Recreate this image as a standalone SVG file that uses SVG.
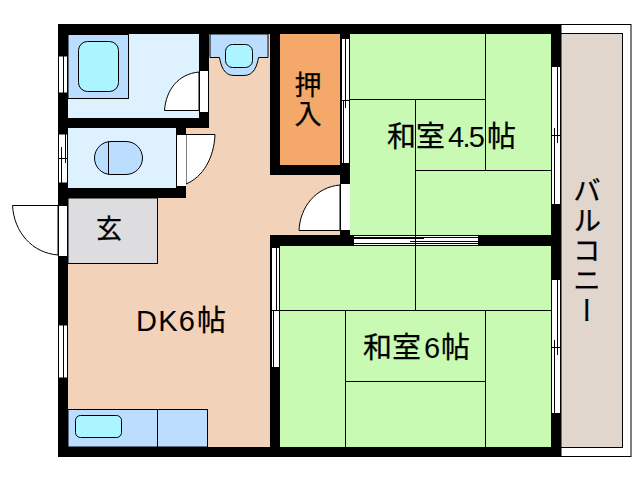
<svg xmlns="http://www.w3.org/2000/svg" width="638" height="480" viewBox="0 0 638 480">
<defs><style>
.ln{fill:none;stroke:#000;stroke-width:1}
.f{stroke:#000;stroke-width:1}
.w{fill:#fff}
.blue{fill:#BBDDFF}
.cy{fill:#AAF5FF}
.tx{font-family:"Noto Sans CJK JP","Liberation Sans",sans-serif;font-size:29px;fill:#000;stroke:#000;stroke-width:.25px}
.la{font-family:"Liberation Sans",sans-serif;font-size:29px;fill:#000}
.v{writing-mode:vertical-rl}
</style></defs>
<rect width="638" height="480" fill="#fff"/>
<g id="balcony">
<rect x="561" y="24.500" width="70" height="432" fill="#fff" stroke="#000"/>
<rect x="561" y="33.500" width="61.500" height="414" fill="#E0D6CE" stroke="#000"/>
<text class="tx v" style="font-size:28px" x="587" y="176" letter-spacing="2">バルコニー</text>
</g>
<g id="dk">
<rect x="68" y="34" width="203" height="414" fill="#F2D2B8"/>
<rect x="270" y="175" width="71" height="61" fill="#F2D2B8"/>
<text x="136" y="331" class="la" textLength="59">DK6</text><text x="197" y="331" class="tx">帖</text>
</g>
<g id="bath">
<rect x="68" y="34" width="132" height="85" fill="#DDF1FF"/>
<rect class="blue f" x="68" y="34.500" width="60.500" height="64"/>
<rect class="cy f" x="78.500" y="41.500" width="40" height="50" rx="9"/>
</g>
<g id="toilet">
<path class="blue f" d="M210 34V57.500H219.500C221 66 224 75.500 234 75.500H244C254 75.500 257 66 258.500 57.500H268V34Z"/>
<rect class="cy f" x="225.500" y="44.500" width="27" height="23" rx="7"/>
</g>
<g id="washroom">
<rect x="68" y="128" width="109" height="61" fill="#DDF1FF"/>
<rect class="blue f" x="94.500" y="141.500" width="48" height="33" rx="16.500"/>
<path class="ln" d="M108.500 141.500V174.500"/>
</g>
<g id="genkan">
<rect x="68" y="198" width="89.500" height="65.500" fill="#DDDDE0" stroke="#000"/>
<text class="tx" x="96" y="238" style="font-size:26px">玄</text>
</g>
<g id="closet">
<rect x="280" y="34" width="61" height="132" fill="#F4A96B"/>
<text class="tx v" x="308" y="71.500" style="font-size:27px" letter-spacing="2">押入</text>
</g>
<g id="washitsu45">
<rect x="350" y="34" width="202" height="202" fill="#C8FAB4"/>
<path class="ln" d="M485.500 34V170.500M350 99.500H485.500M415.500 99.500V236M415.500 170.500H552"/>
<text class="tx" x="387" y="147">和室</text><text class="la" x="448" y="147" textLength="37">4.5</text><text class="tx" x="487" y="147">帖</text>
</g>
<g id="washitsu6">
<rect x="280" y="245" width="272" height="203" fill="#C8FAB4"/>
<path class="ln" d="M415.500 245V310.500M280 310.500H552M345.500 310.500V448M485.500 310.500V448M345.500 381.500H485.500"/>
<text class="tx" x="363" y="358">和室</text><text class="la" x="424" y="358">6</text><text class="tx" x="441" y="358">帖</text>
</g>
<g id="walls" fill="#000">
<rect x="58" y="24" width="503" height="10"/>
<rect x="58" y="447" width="503" height="10"/>
<rect x="58" y="24" width="10" height="433"/>
<rect x="551" y="24" width="10" height="433"/>
<rect x="199" y="24" width="10" height="104"/>
<rect x="58" y="118" width="151" height="10"/>
<rect x="176" y="128" width="10" height="70"/>
<rect x="58" y="188" width="128" height="10"/>
<rect x="270" y="24" width="10" height="151"/>
<rect x="270" y="165" width="80" height="10"/>
<rect x="340" y="24" width="10" height="222"/>
<rect x="270" y="235" width="281" height="11"/>
<rect x="270" y="235" width="10" height="212"/>
</g>
<g id="windows">
<g class="w"><rect x="58" y="56" width="10" height="37"/><rect x="58" y="134" width="10" height="49"/><rect x="58" y="325" width="10" height="53"/><rect x="341" y="39" width="9" height="124"/><rect x="552" y="67" width="9" height="137"/><rect x="552" y="280" width="9" height="134"/><rect x="271" y="248" width="9" height="120"/><rect x="354" y="236" width="124" height="9"/></g>
<path class="ln" d="M58.500 56V93M67.500 56V93M63.500 56V93M58 56H68M58 93H68"/>
<path class="ln" d="M58.500 134V183M67.500 134V183M61.500 158V183M65.500 134V158M58 158.500H68M58 134H68M58 183H68M61.500 147V158M65.500 158V163"/>
<path class="ln" d="M58.500 325V378M67.500 325V378M63.500 325V378M58 325H68M58 378H68"/>
<path class="ln" d="M341.500 39V163M349.500 39V163M345.500 39V100M343.500 100V163M341 100.500H350M345.500 100V108"/>
<path class="ln" d="M551.500 67V204M560.500 67V204M557.500 67V135M554.500 135V204M552 135.500H561M554.500 128V135M557.500 135V143"/>
<path class="ln" d="M551.500 280V414M560.500 280V414M557.500 280V347M554.500 347V414M552 347.500H561M554.500 340V347M557.500 347V355M552 413.500H561"/>
<path class="ln" d="M271.500 248V368M279.500 248V368M276.500 248V310M273.500 310V368M271 310.500H280M276.500 303V310M273.500 310V318M271 367.500H280"/>
<path class="ln" d="M354 237.500H478M354 243.500H478M354 238.500H424M410 241.500H478M415.500 236V245"/>
</g>
<g id="doors">
<path class="w f" d="M164.500 110.500H199V72C178 74 166 90 164.500 110.500Z"/>
<rect class="w" x="199" y="70" width="10" height="42"/><path class="ln" d="M199.500 70V112M208.500 70V112M199 70.500H209"/>
<path class="w f" d="M186 134.500H215C214 158 203 177 186 184Z"/>
<rect class="w" x="177" y="134" width="9" height="53"/>
<path class="ln" d="M177 134.500H186M177 186.500H186"/>
<path class="w f" d="M12.500 205.500H58V255C32 253 14 232 12.500 205.500Z"/>
<rect class="w" x="58" y="205" width="10" height="52"/><path class="ln" d="M58.500 205V257M67.500 205V257M58 205.500H68M58 256.500H68"/>
<path class="w f" d="M299 230.500H340V185C316 187 300 207 299 230.500Z"/>
<rect class="w" x="341" y="183" width="9" height="48"/><path class="ln" d="M340.500 183V231M341 183.500H350M341 230.500H350"/>
</g>
<g id="kitchen">
<rect class="blue f" x="68" y="409.500" width="139.500" height="37.500"/>
<path class="ln" d="M157.500 409.500V447"/>
<rect class="cy f" x="75.500" y="415.500" width="46" height="22" rx="5"/>
</g>
</svg>
